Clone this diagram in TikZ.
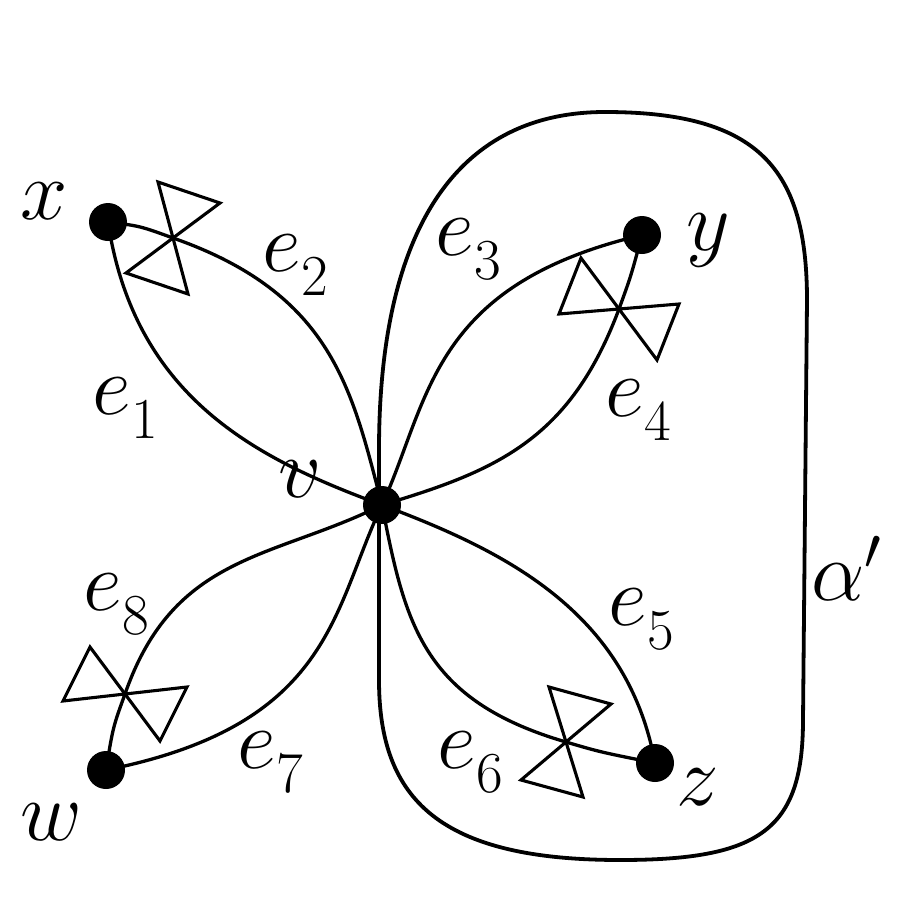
\RequirePackage{fix-cm}
\documentclass[tikz,border=0pt]{standalone}
\newcommand{\esub}[1]{$e$\kern1pt\raisebox{-24pt}{\fontsize{58}{58}\selectfont #1}}
\begin{document}
\begin{tikzpicture}[x=1pt,y=-1pt,
  edge/.style={line width=3.3pt},
  outline/.style={line width=3.8pt},
  bow/.style={line width=3.1pt, line join=miter},
  dot/.style={circle, fill=black, inner sep=0pt, minimum size=38pt},
  lab/.style={anchor=base west, inner sep=0pt, font=\fontsize{85}{85}\selectfont},
]
\useasboundingbox (0,0) rectangle (900,900);
\fill[white] (0,0) rectangle (900,900);

% region alpha'
\draw[outline] (379,560) -- (379,450) .. controls (379,240) and (450,112) .. (605,112)
  .. controls (760,112) and (807,170) .. (807,300) -- (803,720)
  .. controls (803,830) and (760,860) .. (620,860)
  .. controls (440,860) and (379,800) .. (379,680) -- cycle;

% vertices
\node[dot] (x) at (108,222) {};
\node[dot] (y) at (642,235) {};
\node[dot] (w) at (106,770) {};
\node[dot] (z) at (655,763) {};
\node[dot] (v) at (382,505) {};

% bowtie centres
\coordinate (b2) at (173,238);
\coordinate (b4) at (619,309);
\coordinate (b6) at (566,742);
\coordinate (b8) at (125,694);

% edges
\draw[edge] (x.center) .. controls (135,400) and (260,460) .. (v.center);
\draw[edge] (x.center) .. controls (140,226) .. (b2) .. controls (333,294) and (352,390) .. (v.center);
\draw[edge] (y.center) .. controls (430,285) and (430,400) .. (v.center);
\draw[edge] (y.center) .. controls (631,276) .. (b4) .. controls (570,440) and (496,471) .. (v.center);
\draw[edge] (z.center) .. controls (627,610) and (502,550) .. (v.center);
\draw[edge] (z.center) .. controls (600,752) .. (b6) .. controls (422,700) and (405,623) .. (v.center);
\draw[edge] (w.center) .. controls (332,725) and (332,610) .. (v.center);
\draw[edge] (w.center) .. controls (113,727) .. (b8) .. controls (174,553) and (274,559) .. (v.center);

% bowties
\draw[bow] (158,182) -- (220,203) -- (126,273) -- (188,294) -- cycle;
\draw[bow] (581,258) -- (559,314) -- (679,304) -- (657,360) -- cycle;
\draw[bow] (90,647) -- (63,701) -- (187,687) -- (160,741) -- cycle;
\draw[bow] (549,687) -- (611,704) -- (521,780) -- (583,797) -- cycle;

% labels
\node[lab] (lx) at (20,219) {$x$};
\node[lab] (ly) at (686,250) {$y$};
\node[lab] (lz) at (676,805) {$z$};
\node[lab] (lw) at (20,840) {$w$};
\node[lab] (lv) at (278,497) {$v$};
\node[lab] (le1) at (92,414) {\esub{1}};
\node[lab] (le2) at (262,271) {\esub{2}};
\node[lab] (le3) at (435,255) {\esub{3}};
\node[lab] (le4) at (605,416) {\esub{4}};
\node[lab] (le5) at (608,625) {\esub{5}};
\node[lab] (le6) at (437,768) {\esub{6}};
\node[lab] (le7) at (237,768) {\esub{7}};
\node[lab] (le8) at (83,610) {\esub{8}};
\node[lab] (la) at (811,600) {$\alpha'$};
\end{tikzpicture}
\end{document}
